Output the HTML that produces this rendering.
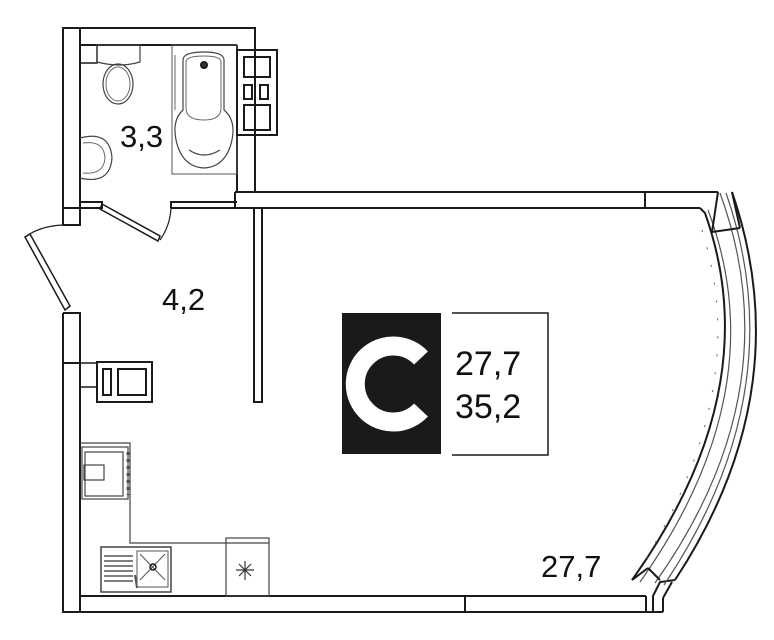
<!DOCTYPE html>
<html><head><style>
html,body{margin:0;padding:0;background:#fff;}
svg{display:block;}
text{font-family:"Liberation Sans",sans-serif;fill:#111;}
</style></head><body>
<svg width="774" height="640" viewBox="0 0 774 640" xmlns="http://www.w3.org/2000/svg">
<g fill="none" stroke="#1a1a1a" stroke-width="2">
<rect x="63" y="28" width="17" height="197"/>
<line x1="63" y1="208" x2="80" y2="208"/>
<polyline points="80,28 255,28 255,192"/>
<line x1="80" y1="45" x2="237" y2="45"/>
<line x1="237" y1="45" x2="237" y2="192"/>
<polyline points="80,202 102,202 102,208 80,208"/>
<polyline points="171,208 171,202 237,202"/>
<line x1="171" y1="208" x2="237" y2="208"/>
<polyline points="235,192 718,192"/>
<polyline points="235,192 235,208 700,208"/>
<line x1="645" y1="192" x2="645" y2="208"/>
<rect x="254" y="208" width="8" height="194"/>
<polyline points="63,313 63,612 80,612 80,313 63,313"/>
<line x1="63" y1="363" x2="80" y2="363"/>
<line x1="80" y1="612" x2="663" y2="612"/>
<line x1="80" y1="596" x2="646" y2="596"/>
<line x1="465" y1="596" x2="465" y2="612"/>
<polyline points="646,596 646,612"/>
<polyline points="653,612 653,596 660,582 675,580"/>
<line x1="663" y1="612" x2="663" y2="598"/>
<polyline points="663,598 672,582"/>
<path d="M700,208 L705,213 Q768,390 632,580"/>
<path d="M708,210 Q776,390 640,582" stroke-width="1.2" stroke="#555"/>
<path d="M720,193 Q792,390 655,583" stroke-width="1.2" stroke="#555"/>
<path d="M726,193 Q795,390 664,585" stroke-width="1.2" stroke="#555"/>
<path d="M732,192 Q800,390 675,580"/>
<line x1="718" y1="192" x2="712" y2="232"/>
<line x1="712" y1="232" x2="740" y2="228"/>
<line x1="732" y1="192" x2="740" y2="228"/>
<line x1="648" y1="568" x2="660" y2="580"/>
<line x1="648" y1="568" x2="632" y2="580"/>
<path d="M702,230 Q753,390 640,568" stroke="#777" stroke-width="1.2" stroke-dasharray="2 16"/>
<path d="M63,225 Q40,226 25,237" stroke-width="1.2"/>
<polygon points="25,237 30,234 70,306 65,310" stroke-width="1.5"/>
<polygon points="102,204 160,236 158,241 100,209" stroke-width="1.5"/>
<path d="M160,240 Q170,226 171,208" stroke-width="1.2"/>
<rect x="80" y="45" width="17" height="18" stroke-width="1.5"/>
<path d="M97,45 L140,45 L140,62 Q120,68 97,62 Z" stroke-width="1.2" stroke="#444"/>
<ellipse cx="118" cy="84" rx="15" ry="20" stroke-width="1.2" stroke="#444"/>
<ellipse cx="118" cy="84" rx="12" ry="17" stroke-width="1" stroke="#666"/>
<path d="M80,138 Q110,130 112,158 Q110,185 80,178" stroke-width="1.2" stroke="#444"/>
<path d="M83,143 Q104,140 105,158 Q104,175 83,173" stroke-width="1" stroke="#666"/>
<rect x="172" y="45" width="65" height="129" stroke-width="1" stroke="#555"/>
<path d="M183,60 Q183,52 204,52 Q224,52 224,60 L224,110 Q236,120 232,140 Q226,167 204,168 Q182,167 176,140 Q172,120 183,110 Z" stroke-width="1.2" stroke="#444"/>
<path d="M186,108 Q186,120 204,120 Q221,120 221,108 L221,62 Q221,56 204,56 Q186,56 186,62 Z" stroke-width="1" stroke="#666"/>
<path d="M189,150 Q204,160 220,150" stroke-width="1.2" stroke="#444"/>
<circle cx="204" cy="65" r="3" fill="#333"/>
<line x1="175" y1="55" x2="175" y2="110" stroke-width="1" stroke="#666"/>
<rect x="237" y="50" width="40" height="85"/>
<rect x="244" y="57" width="26" height="20"/>
<rect x="244" y="85" width="8" height="14"/>
<rect x="260" y="85" width="8" height="14"/>
<rect x="244" y="105" width="26" height="25"/>
<rect x="80" y="363" width="17" height="24" stroke-width="1.5"/>
<rect x="97" y="362" width="55" height="40"/>
<rect x="103" y="369" width="8" height="26"/>
<rect x="118" y="369" width="28" height="26"/>
<polyline points="80,443 130,443 130,543 226,543" stroke-width="1.2" stroke="#444"/>
<rect x="82" y="447" width="46" height="52" stroke-width="1.2" stroke="#444"/>
<rect x="85" y="452" width="38" height="44" stroke-width="1.2" stroke="#444"/>
<rect x="84" y="465" width="20" height="15" stroke-width="1.2" stroke="#444"/>
<line x1="128" y1="452" x2="128" y2="495" stroke-width="3" stroke="#555" stroke-dasharray="3 4"/>
<rect x="101" y="547" width="70" height="45" stroke-width="1.5" stroke="#444"/>
<rect x="137" y="551" width="31" height="36" stroke-width="1" stroke="#555"/>
<g stroke-width="1.5" stroke="#555"><line x1="104" y1="556" x2="133" y2="556"/><line x1="104" y1="561" x2="133" y2="561"/><line x1="104" y1="566" x2="133" y2="566"/><line x1="104" y1="571" x2="133" y2="571"/><line x1="104" y1="576" x2="133" y2="576"/><line x1="104" y1="581" x2="133" y2="581"/></g>
<line x1="140" y1="554" x2="165" y2="580" stroke-width="1" stroke="#555"/>
<line x1="165" y1="554" x2="140" y2="580" stroke-width="1" stroke="#555"/>
<circle cx="153" cy="567" r="3" stroke-width="1.5"/>
<line x1="135" y1="575" x2="137" y2="588" stroke-width="2" stroke="#555"/>
<rect x="226" y="538" width="43" height="58" stroke-width="1.2" stroke="#444"/>
<line x1="226" y1="543" x2="269" y2="543" stroke-width="1.2" stroke="#444"/>
<g stroke-width="1.2" stroke="#333"><line x1="245" y1="561" x2="245" y2="580"/><line x1="236" y1="570" x2="254" y2="570"/><line x1="239" y1="564" x2="251" y2="576"/><line x1="251" y1="564" x2="239" y2="576"/></g>
<polyline points="452,313 548,313 548,455 452,455" stroke-width="1.5"/>
</g>
<rect x="342" y="313" width="99" height="141" fill="#1a1a1a"/>
<path d="M421,358 A38,38 0 1 0 421,410" fill="none" stroke="#fff" stroke-width="19"/>
<text x="455" y="375" font-size="34">27,7</text>
<text x="455" y="418" font-size="34">35,2</text>
<text x="120" y="147" font-size="31">3,3</text>
<text x="162" y="310" font-size="31">4,2</text>
<text x="541" y="577" font-size="31">27,7</text>
</svg>
</body></html>
